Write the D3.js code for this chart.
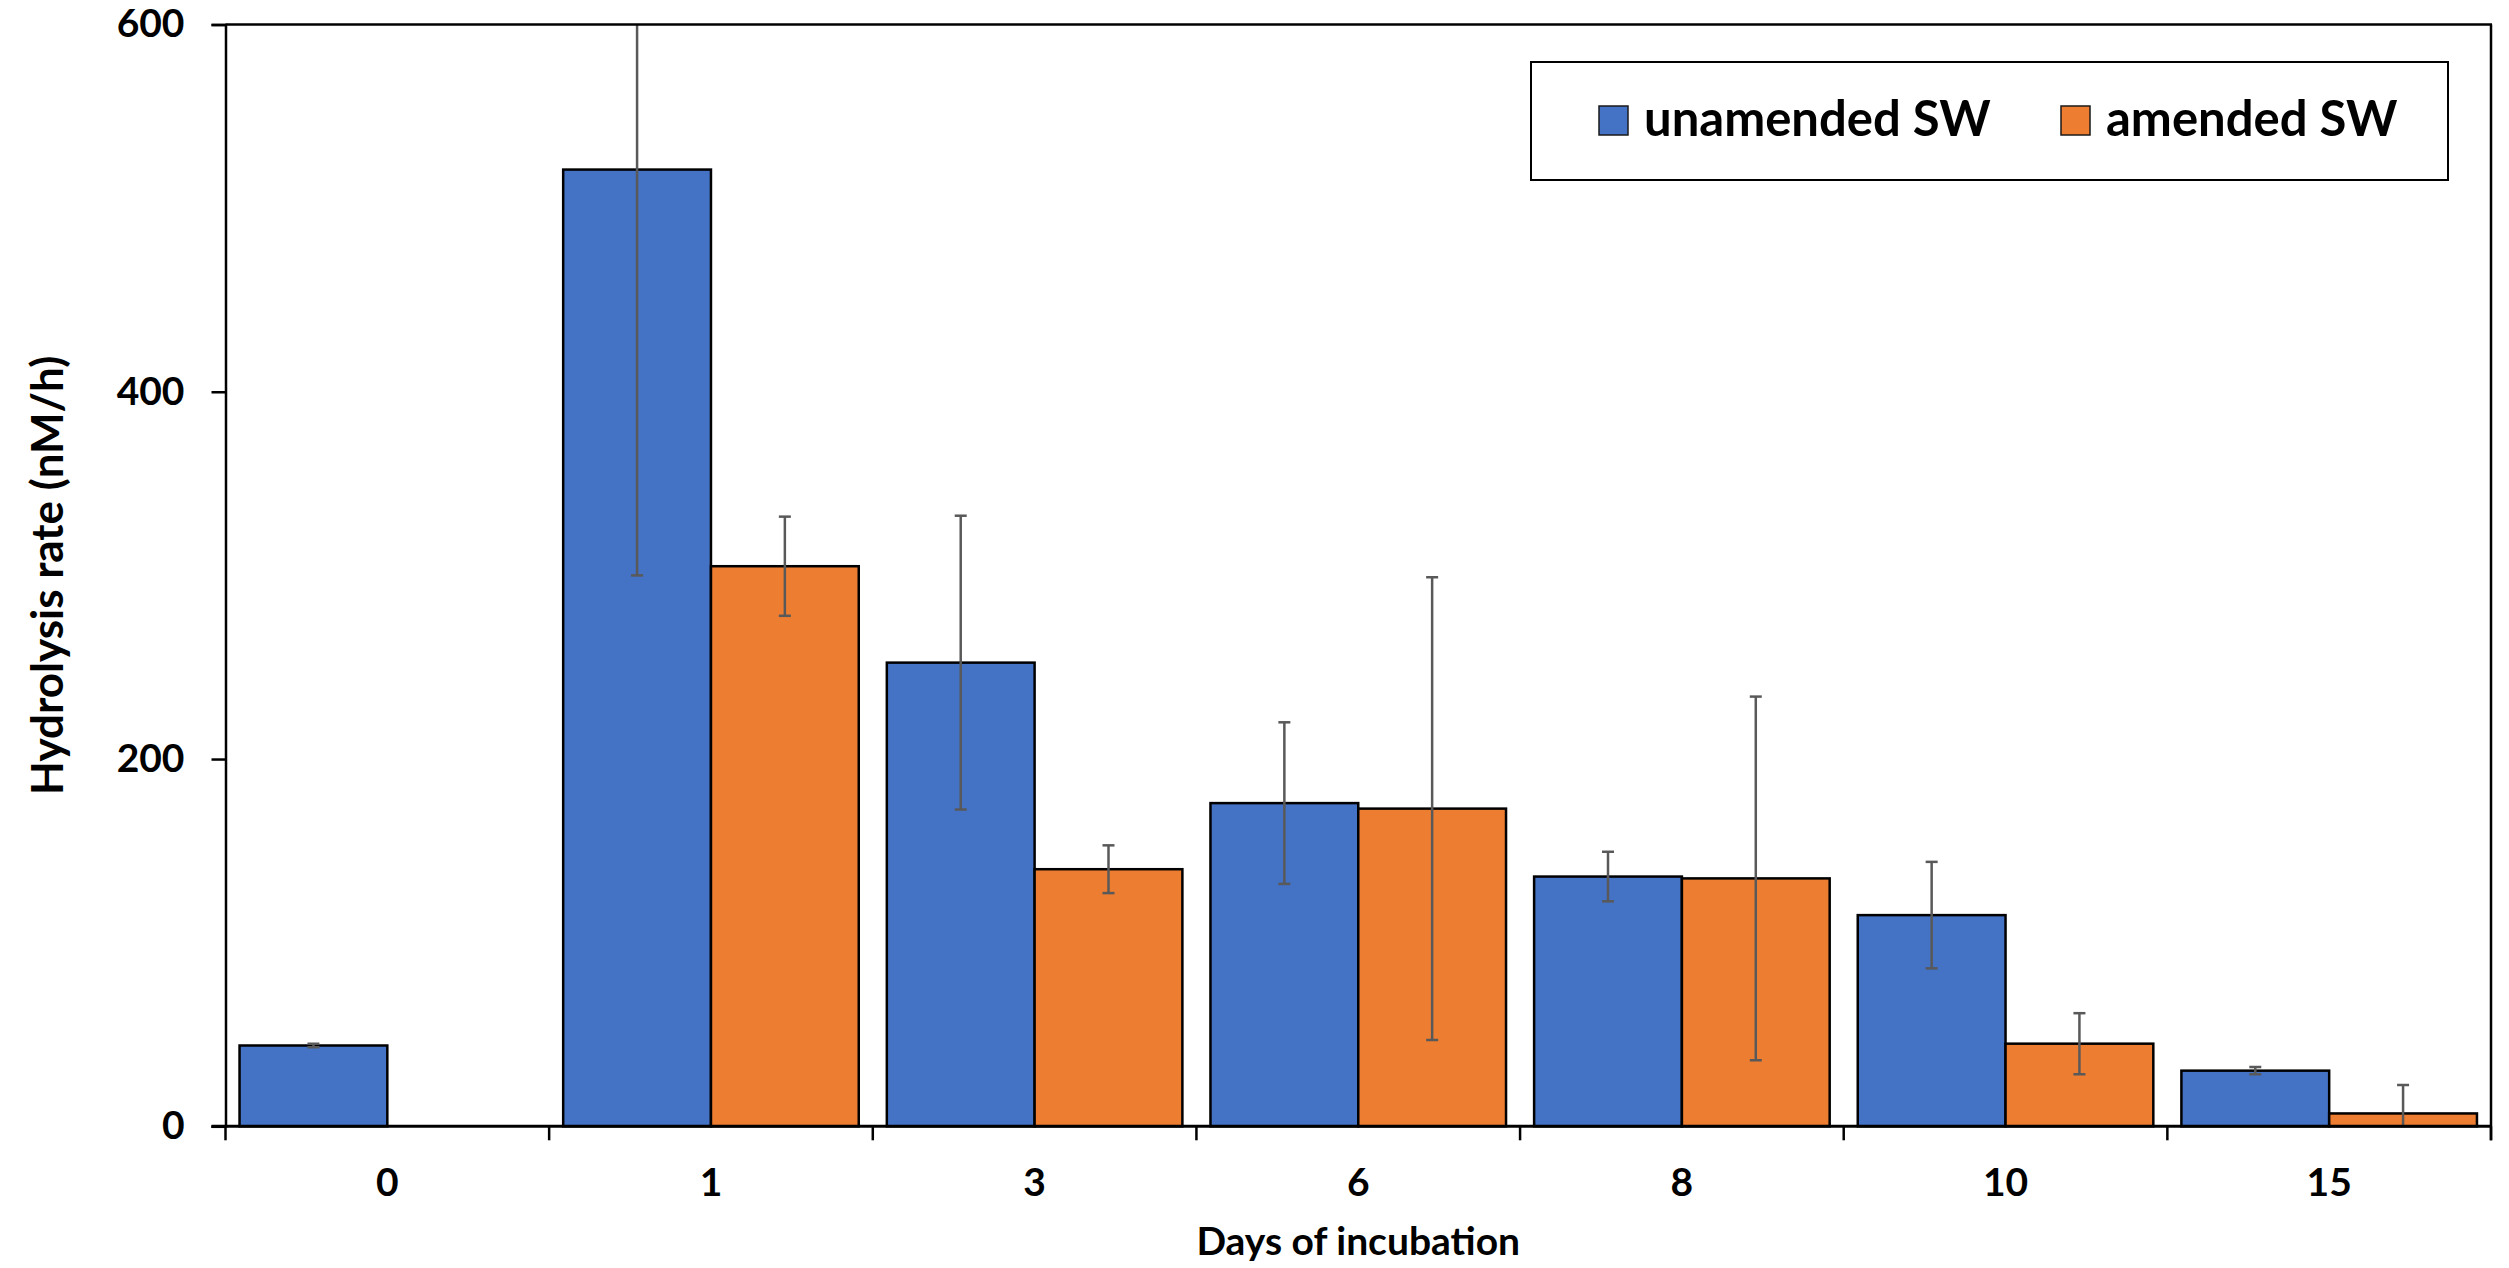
<!DOCTYPE html>
<html>
<head>
<meta charset="utf-8">
<script src="https://cdn.jsdelivr.net/npm/d3@7"></script>
<style>
  html, body { margin: 0; padding: 0; background: #ffffff; }
  svg { display: block; }
  text { font-family: Lato, "Open Sans", sans-serif; font-weight: 700; fill: #000; }
</style>
</head>
<body>
<svg id="chart" width="2509" height="1268"></svg>
<script>
// Hydrolysis rates over the incubation, mean ± error per treatment
const days = ["0", "1", "3", "6", "8", "10", "15"];
const seriesNames = ["unamended SW", "amended SW"];
const unamended    = [44, 521, 252.5, 176, 136, 115, 30.3];
const unamendedErr = [1, 221, 80, 44, 13.5, 29, 2];
const amended      = [0, 305, 140, 173, 135, 45, 7];
const amendedErr   = [0, 27, 13, 126, 99, 16.6, 15.5];
const yTicks = [0, 200, 400, 600];
const colors = ["#4472C4", "#ED7D31"];

const rows = days.map((d, i) => ({
  day: d,
  values: [
    { key: seriesNames[0], v: unamended[i], e: unamendedErr[i] },
    { key: seriesNames[1], v: amended[i], e: amendedErr[i] }
  ]
}));

const svg = d3.select("#chart");
const plot = { left: 225.5, right: 2491, top: 24.5, bottom: 1126.3 };
const FONT = 39;
const Y_TITLE_FONT = 44;
const LEGEND_FONT = 49;

const x0 = d3.scaleBand().domain(days).range([plot.left, plot.right]).paddingInner(0).paddingOuter(0);
const x1 = d3.scaleBand().domain(seriesNames).range([0, x0.bandwidth()]).paddingInner(0).paddingOuter(0.095);
const y = d3.scaleLinear().domain([0, 600]).range([plot.bottom, plot.top]);
const color = d3.scaleOrdinal().domain(seriesNames).range(colors);

svg.append("defs").append("clipPath").attr("id", "plotClip")
  .append("rect")
  .attr("x", plot.left).attr("y", plot.top)
  .attr("width", plot.right - plot.left).attr("height", plot.bottom - plot.top);

// bars
const groups = svg.append("g").selectAll("g").data(rows).join("g")
  .attr("transform", d => `translate(${x0(d.day)},0)`);

groups.selectAll("rect").data(d => d.values).join("rect")
  .attr("x", d => x1(d.key))
  .attr("y", d => y(d.v))
  .attr("width", x1.bandwidth())
  .attr("height", d => y(0) - y(d.v))
  .attr("fill", d => color(d.key))
  .attr("stroke", "#000")
  .attr("stroke-width", 2.5);

// error bars
const errG = svg.append("g").attr("clip-path", "url(#plotClip)");
const capHalf = 6;
rows.forEach(r => {
  r.values.forEach(d => {
    const cx = x0(r.day) + x1(d.key) + x1.bandwidth() / 2;
    const hi = y(d.v + d.e), lo = y(d.v - d.e);
    const g = errG.append("g").attr("stroke", "#595959").attr("stroke-width", 2.5);
    g.append("line").attr("x1", cx).attr("x2", cx).attr("y1", hi).attr("y2", lo);
    g.append("line").attr("x1", cx - capHalf).attr("x2", cx + capHalf).attr("y1", hi).attr("y2", hi);
    g.append("line").attr("x1", cx - capHalf).attr("x2", cx + capHalf).attr("y1", lo).attr("y2", lo);
  });
});

// y axis
const yAxis = svg.append("g")
  .attr("transform", `translate(${plot.left},0)`)
  .call(d3.axisLeft(y).tickValues(yTicks).tickSize(14).tickPadding(27).tickFormat(d3.format("d")));
yAxis.select(".domain").attr("stroke", "#000").attr("stroke-width", 2.5);
yAxis.selectAll(".tick line").attr("stroke", "#000").attr("stroke-width", 2.5);
yAxis.selectAll(".tick text").style("font-size", FONT + "px").style("font-family", "Lato").style("font-weight", 700).attr("fill", "#000");

// x axis
const xAxis = svg.append("g")
  .attr("transform", `translate(0,${plot.bottom})`)
  .call(d3.axisBottom(x0).tickSize(0).tickPadding(42));
xAxis.select(".domain").remove();
xAxis.selectAll(".tick text").style("font-size", FONT + "px").style("font-family", "Lato").style("font-weight", 700).attr("fill", "#000");

// category separators below the axis
const bounds = days.map(d => x0(d)).concat([plot.right]);
svg.append("g").selectAll("line").data(bounds).join("line")
  .attr("x1", d => d).attr("x2", d => d)
  .attr("y1", plot.bottom).attr("y2", plot.bottom + 14)
  .attr("stroke", "#000").attr("stroke-width", 2.5);

// plot frame
svg.append("line").attr("x1", plot.left - 14).attr("x2", plot.right + 1)
  .attr("y1", plot.bottom).attr("y2", plot.bottom).attr("stroke", "#000").attr("stroke-width", 3);
svg.append("line").attr("x1", plot.left).attr("x2", plot.right + 1)
  .attr("y1", plot.top).attr("y2", plot.top).attr("stroke", "#000").attr("stroke-width", 2.5);
svg.append("line").attr("x1", plot.right).attr("x2", plot.right)
  .attr("y1", plot.top).attr("y2", plot.bottom + 14).attr("stroke", "#000").attr("stroke-width", 2.5);

// axis titles
svg.append("text")
  .attr("x", (plot.left + plot.right) / 2).attr("y", 1255)
  .attr("text-anchor", "middle").style("font-size", FONT + "px")
  .text("Days of incubation");
svg.append("text")
  .attr("transform", `translate(63,${(plot.top + plot.bottom) / 2}) rotate(-90)`)
  .attr("text-anchor", "middle").style("font-size", Y_TITLE_FONT + "px")
  .text("Hydrolysis rate (nM/h)");

// legend
const legend = svg.append("g");
legend.append("rect")
  .attr("x", 1531).attr("y", 62).attr("width", 917).attr("height", 118)
  .attr("fill", "#fff").attr("stroke", "#000").attr("stroke-width", 2);
const legendX = [1599, 2061];
seriesNames.forEach((name, i) => {
  legend.append("rect")
    .attr("x", legendX[i]).attr("y", 106).attr("width", 29).attr("height", 29)
    .attr("fill", color(name)).attr("stroke", "#1a1a1a").attr("stroke-width", 1.5);
  legend.append("text")
    .attr("x", legendX[i] + 45).attr("y", 136)
    .style("font-size", LEGEND_FONT + "px")
    .text(name);
});
</script>
</body>
</html>
